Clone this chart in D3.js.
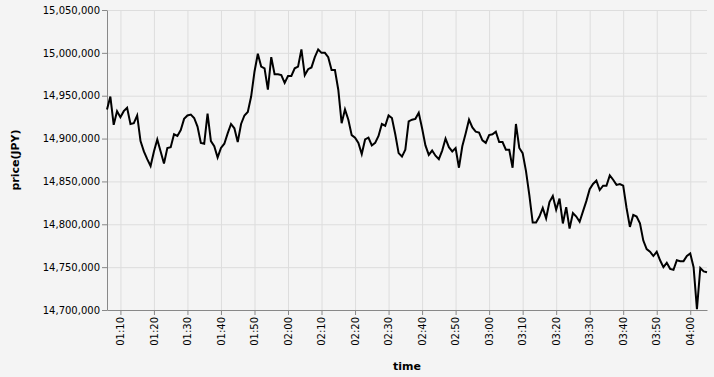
<!DOCTYPE html>
<html>
<head>
<meta charset="utf-8">
<script src="https://cdn.jsdelivr.net/npm/d3@7"></script>
<style>
  body { margin: 0; background: #f4f4f4; }
  #drawing text { font-family: "DejaVu Sans", sans-serif; }
</style>
</head>
<body>
<div id="drawing"></div>
<script>
// one price per minute, 01:06 - 04:05
const times = [
  "01:06","01:07","01:08","01:09",
  "01:10","01:11","01:12","01:13","01:14","01:15","01:16","01:17","01:18","01:19",
  "01:20","01:21","01:22","01:23","01:24","01:25","01:26","01:27","01:28","01:29",
  "01:30","01:31","01:32","01:33","01:34","01:35","01:36","01:37","01:38","01:39",
  "01:40","01:41","01:42","01:43","01:44","01:45","01:46","01:47","01:48","01:49",
  "01:50","01:51","01:52","01:53","01:54","01:55","01:56","01:57","01:58","01:59",
  "02:00","02:01","02:02","02:03","02:04","02:05","02:06","02:07","02:08","02:09",
  "02:10","02:11","02:12","02:13","02:14","02:15","02:16","02:17","02:18","02:19",
  "02:20","02:21","02:22","02:23","02:24","02:25","02:26","02:27","02:28","02:29",
  "02:30","02:31","02:32","02:33","02:34","02:35","02:36","02:37","02:38","02:39",
  "02:40","02:41","02:42","02:43","02:44","02:45","02:46","02:47","02:48","02:49",
  "02:50","02:51","02:52","02:53","02:54","02:55","02:56","02:57","02:58","02:59",
  "03:00","03:01","03:02","03:03","03:04","03:05","03:06","03:07","03:08","03:09",
  "03:10","03:11","03:12","03:13","03:14","03:15","03:16","03:17","03:18","03:19",
  "03:20","03:21","03:22","03:23","03:24","03:25","03:26","03:27","03:28","03:29",
  "03:30","03:31","03:32","03:33","03:34","03:35","03:36","03:37","03:38","03:39",
  "03:40","03:41","03:42","03:43","03:44","03:45","03:46","03:47","03:48","03:49",
  "03:50","03:51","03:52","03:53","03:54","03:55","03:56","03:57","03:58","03:59",
  "04:00","04:01","04:02","04:03","04:04","04:05"
];

const prices = [
  14934000, 14949000, 14916000, 14932000,
  14925000, 14932000, 14936000, 14917000, 14918000, 14927000, 14897000, 14885000, 14876000, 14868000,
  14885000, 14899000, 14885000, 14871000, 14889000, 14890000, 14905000, 14903000, 14910000, 14923000,
  14927000, 14928000, 14924000, 14914000, 14895000, 14894000, 14929000, 14897000, 14891000, 14878000,
  14889000, 14894000, 14906000, 14917000, 14912000, 14896000, 14917000, 14927000, 14931000, 14949000,
  14978000, 14999000, 14984000, 14982000, 14957000, 14995000, 14975000, 14975000, 14974000, 14965000,
  14973000, 14973000, 14982000, 14984000, 15004000, 14974000, 14981000, 14983000, 14995000, 15004000,
  15000000, 15000000, 14995000, 14980000, 14980000, 14957000, 14918000, 14934000, 14922000, 14904000,
  14901000, 14895000, 14882000, 14899000, 14901000, 14892000, 14895000, 14903000, 14917000, 14915000,
  14927000, 14924000, 14905000, 14883000, 14879000, 14887000, 14920000, 14922000, 14923000, 14930000,
  14912000, 14892000, 14881000, 14886000, 14880000, 14876000, 14886000, 14900000, 14890000, 14885000,
  14889000, 14866000, 14891000, 14906000, 14922000, 14913000, 14908000, 14907000, 14898000, 14895000,
  14904000, 14905000, 14908000, 14896000, 14896000, 14887000, 14887000, 14866000, 14917000, 14889000,
  14883000, 14862000, 14834000, 14802000, 14802000, 14809000, 14819000, 14807000, 14826000, 14833000,
  14817000, 14830000, 14801000, 14820000, 14795000, 14813000, 14809000, 14803000, 14815000, 14827000,
  14841000, 14847000, 14851000, 14840000, 14845000, 14845000, 14857000, 14852000, 14846000, 14847000,
  14845000, 14819000, 14797000, 14811000, 14809000, 14801000, 14781000, 14771000, 14768000, 14763000,
  14768000, 14758000, 14750000, 14755000, 14748000, 14747000, 14758000, 14757000, 14757000, 14763000,
  14766000, 14750000, 14701000, 14749000, 14745000, 14744000
];

const xTitle = "time";
const yTitle = "price(JPY)";

const totalWidth = 714;
const totalHeight = 377;
const margin = {top: 10, right: 7, bottom: 67, left: 107};
const width = totalWidth - margin.left - margin.right;
const height = totalHeight - margin.top - margin.bottom;

let drawing;
let drawingArea;
let xScale;
let yScale;

function setup(){
  drawing = d3.select("#drawing").append("svg")
    .attr("width", totalWidth)
    .attr("height", totalHeight)
    .style("background", "#f4f4f4")
    .style("display", "block");

  drawingArea = drawing.append("g")
    .attr("transform", `translate(${margin.left}, ${margin.top})`);
}

function make(){
  const parseTime = d3.timeParse("%H:%M");
  const data = times.map((t, i) => ({time: parseTime(t), price: prices[i]}));

  xScale = d3.scaleTime()
    .domain(d3.extent(data, d => d.time))
    .range([0, width]);
  yScale = d3.scaleLinear()
    .domain(d3.extent(data, d => d.price))
    .range([height, 0])
    .nice();

  const xTicks = d3.timeMinute.every(10);

  // grid
  drawingArea.append("g")
    .attr("class", "grid")
    .attr("transform", `translate(0,${height})`)
    .call(d3.axisBottom(xScale).ticks(xTicks).tickSize(-height).tickFormat(""))
    .call(g => g.select(".domain").remove());
  drawingArea.append("g")
    .attr("class", "grid")
    .call(d3.axisLeft(yScale).ticks(7).tickSize(-width).tickFormat(""))
    .call(g => g.select(".domain").remove());
  drawingArea.selectAll(".grid line")
    .attr("stroke", "#dddddd")
    .attr("stroke-width", 1);

  // axes
  const xAxis = drawingArea.append("g")
    .attr("class", "xAxis")
    .attr("transform", `translate(0,${height})`)
    .call(d3.axisBottom(xScale).ticks(xTicks).tickFormat(d3.timeFormat("%H:%M")).tickSize(5).tickSizeOuter(0));
  xAxis.selectAll("text")
    .attr("transform", "rotate(-90)")
    .attr("x", -7)
    .attr("y", 0)
    .attr("dy", "0.32em")
    .style("text-anchor", "end");

  const yAxis = drawingArea.append("g")
    .attr("class", "yAxis")
    .call(d3.axisLeft(yScale).ticks(7).tickFormat(d3.format(",")).tickSize(5).tickPadding(2).tickSizeOuter(0));

  drawingArea.selectAll(".xAxis, .yAxis")
    .call(g => g.selectAll(".domain, line").attr("stroke", "#888888"))
    .call(g => g.selectAll("text").attr("fill", "#000").style("font-size", "10px"));

  // price line
  const line = d3.line()
    .x(d => xScale(d.time))
    .y(d => yScale(d.price));

  drawingArea.append("path")
    .datum(data)
    .attr("fill", "none")
    .attr("stroke", "#000")
    .attr("stroke-width", 2)
    .attr("d", line);

  // titles
  drawing.append("text")
    .attr("x", margin.left + width / 2)
    .attr("y", 370)
    .attr("text-anchor", "middle")
    .style("font-size", "11px")
    .style("font-weight", "bold")
    .text(xTitle);

  drawing.append("text")
    .attr("transform", `translate(19, ${margin.top + height / 2}) rotate(-90)`)
    .attr("text-anchor", "middle")
    .style("font-size", "11px")
    .style("font-weight", "bold")
    .text(yTitle);
}

setup();
make();
</script>
</body>
</html>
